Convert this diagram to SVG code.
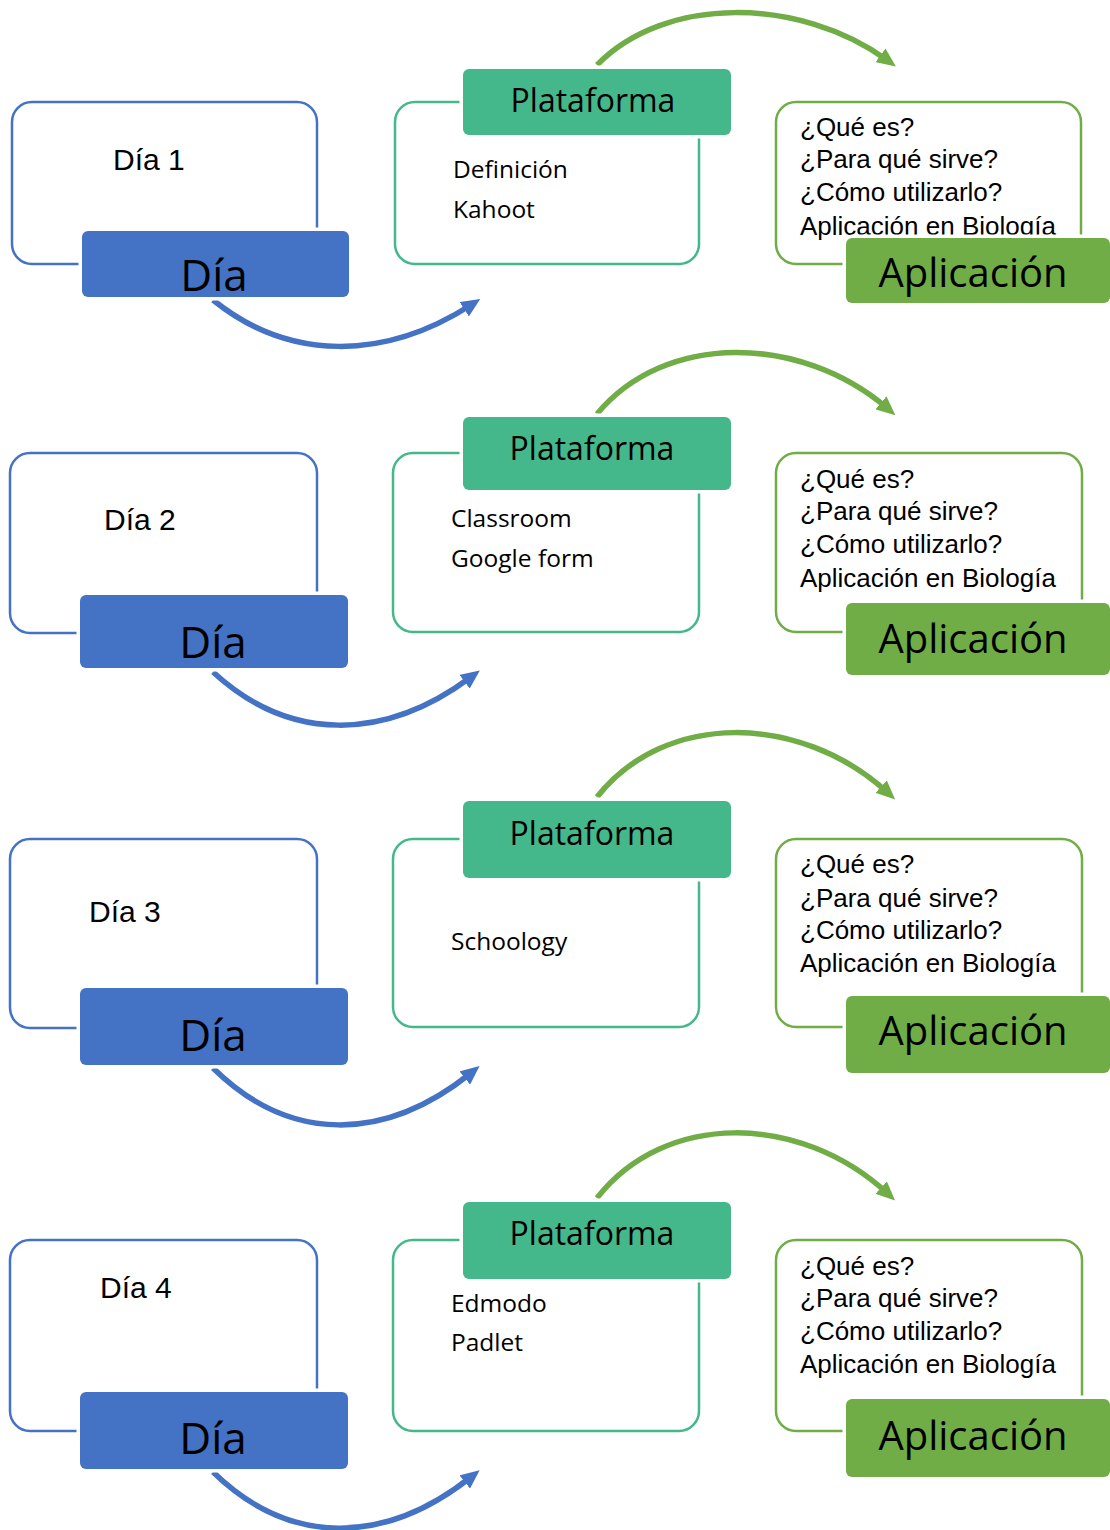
<svg xmlns="http://www.w3.org/2000/svg" width="1110" height="1530" viewBox="0 0 1110 1530">
<defs>
<style>
.ob{fill:#fff;stroke:#4472C4;stroke-width:2.5}
.ot{fill:#fff;stroke:#45B88B;stroke-width:2.5}
.og{fill:#fff;stroke:#70AD47;stroke-width:2.5}
.fb,.ft,.fg{stroke:#fff;stroke-width:7;paint-order:stroke}
.fb{fill:#4472C4}
.ft{fill:#45B88B}
.fg{fill:#70AD47}
.day{font-family:"Liberation Sans",Arial,sans-serif;font-size:30px;fill:#000}
.q{font-family:"Liberation Sans",Arial,sans-serif;font-size:26px;fill:#000}
.body{font-family:"Open Sans","Noto Sans",sans-serif;font-size:24.5px;fill:#000}
.tdia{font-family:"Open Sans","Noto Sans",sans-serif;font-size:44px;fill:#000;text-anchor:middle}
.tplat{font-family:"Open Sans","Noto Sans",sans-serif;font-size:32px;fill:#000;text-anchor:middle}
.tapl{font-family:"Open Sans","Noto Sans",sans-serif;font-size:40px;fill:#000;text-anchor:middle}
.ab{fill:none;stroke:#4472C4;stroke-width:5.5;marker-end:url(#mb)}
.ag{fill:none;stroke:#70AD47;stroke-width:5.5;marker-end:url(#mg)}
</style>
<marker id="mb" markerUnits="userSpaceOnUse" markerWidth="19" markerHeight="17" viewBox="0 0 19 17" refX="8" refY="8.5" orient="auto"><path d="M0,0 L19,8.5 L0,17 z" fill="#4472C4"/></marker>
<marker id="mg" markerUnits="userSpaceOnUse" markerWidth="19" markerHeight="17" viewBox="0 0 19 17" refX="8" refY="8.5" orient="auto"><path d="M0,0 L19,8.5 L0,17 z" fill="#70AD47"/></marker>
</defs>
<rect width="1110" height="1530" fill="#fff"/>

<g id="connectors">
<path class="ab" d="M213,300 C290,362 385,360 471,305"/>
<path class="ab" d="M213,672 C290,743 385,741 471,677"/>
<path class="ab" d="M213,1068 C290,1144 385,1142 471,1073"/>
<path class="ab" d="M213,1472 C290,1547 385,1545 471,1477"/>
<path class="ag" d="M597,65 C665,-5 800,-3 887,60"/>
<path class="ag" d="M597,414 C665,332 800,334 887,408"/>
<path class="ag" d="M597,797 C665,711 800,713 887,792"/>
<path class="ag" d="M597,1198 C665,1111 800,1113 887,1193"/>
</g>

<!-- Row 1 -->
<g id="dia1">
<rect class="ob" x="12" y="102" width="305" height="162" rx="20"/>
<text class="day" x="113" y="170">Día 1</text>
</g>
<g id="dia1-label">
<rect class="fb" x="82" y="231" width="267" height="66" rx="6"/>
<text class="tdia" x="214" y="291">Día</text>
</g>
<g id="plat1">
<rect class="ot" x="395" y="102" width="304" height="162" rx="20"/>
<text class="body" x="453" y="178">Definición</text>
<text class="body" x="453" y="218">Kahoot</text>
</g>
<g id="plat1-label">
<rect class="ft" x="463" y="69" width="268" height="66" rx="6"/>
<text class="tplat" x="593" y="112">Plataforma</text>
</g>
<g id="apl1">
<rect class="og" x="776" y="102" width="305" height="162" rx="20"/>
<text class="q" x="800" y="136">¿Qué es?</text>
<text class="q" x="800" y="168">¿Para qué sirve?</text>
<text class="q" x="800" y="201">¿Cómo utilizarlo?</text>
<text class="q" x="800" y="235">Aplicación en Biología</text>
</g>
<g id="apl1-label">
<rect class="fg" x="846" y="238" width="264" height="65" rx="6"/>
<text class="tapl" x="973" y="287">Aplicación</text>
</g>

<!-- Row 2 -->
<g id="dia2">
<rect class="ob" x="10" y="453" width="307" height="180" rx="20"/>
<text class="day" x="104" y="530">Día 2</text>
</g>
<g id="dia2-label">
<rect class="fb" x="80" y="595" width="268" height="73" rx="6"/>
<text class="tdia" x="213" y="658">Día</text>
</g>
<g id="plat2">
<rect class="ot" x="393" y="453" width="306" height="179" rx="20"/>
<text class="body" x="451" y="527">Classroom</text>
<text class="body" x="451" y="567">Google form</text>
</g>
<g id="plat2-label">
<rect class="ft" x="463" y="417" width="268" height="73" rx="6"/>
<text class="tplat" x="592" y="460">Plataforma</text>
</g>
<g id="apl2">
<rect class="og" x="776" y="453" width="306" height="179" rx="20"/>
<text class="q" x="800" y="488">¿Qué es?</text>
<text class="q" x="800" y="520">¿Para qué sirve?</text>
<text class="q" x="800" y="553">¿Cómo utilizarlo?</text>
<text class="q" x="800" y="587">Aplicación en Biología</text>
</g>
<g id="apl2-label">
<rect class="fg" x="846" y="603" width="264" height="72" rx="6"/>
<text class="tapl" x="973" y="653">Aplicación</text>
</g>

<!-- Row 3 -->
<g id="dia3">
<rect class="ob" x="10" y="839" width="307" height="189" rx="20"/>
<text class="day" x="89" y="922">Día 3</text>
</g>
<g id="dia3-label">
<rect class="fb" x="80" y="988" width="268" height="77" rx="6"/>
<text class="tdia" x="213" y="1051">Día</text>
</g>
<g id="plat3">
<rect class="ot" x="393" y="839" width="306" height="188" rx="20"/>
<text class="body" x="451" y="950">Schoology</text>
</g>
<g id="plat3-label">
<rect class="ft" x="463" y="801" width="268" height="77" rx="6"/>
<text class="tplat" x="592" y="845">Plataforma</text>
</g>
<g id="apl3">
<rect class="og" x="776" y="839" width="306" height="188" rx="20"/>
<text class="q" x="800" y="873">¿Qué es?</text>
<text class="q" x="800" y="907">¿Para qué sirve?</text>
<text class="q" x="800" y="939">¿Cómo utilizarlo?</text>
<text class="q" x="800" y="972">Aplicación en Biología</text>
</g>
<g id="apl3-label">
<rect class="fg" x="846" y="996" width="264" height="77" rx="6"/>
<text class="tapl" x="973" y="1045">Aplicación</text>
</g>

<!-- Row 4 -->
<g id="dia4">
<rect class="ob" x="10" y="1240" width="307" height="191" rx="20"/>
<text class="day" x="100" y="1298">Día 4</text>
</g>
<g id="dia4-label">
<rect class="fb" x="80" y="1392" width="268" height="77" rx="6"/>
<text class="tdia" x="213" y="1454">Día</text>
</g>
<g id="plat4">
<rect class="ot" x="393" y="1240" width="306" height="191" rx="20"/>
<text class="body" x="451" y="1312">Edmodo</text>
<text class="body" x="451" y="1351">Padlet</text>
</g>
<g id="plat4-label">
<rect class="ft" x="463" y="1202" width="268" height="77" rx="6"/>
<text class="tplat" x="592" y="1245">Plataforma</text>
</g>
<g id="apl4">
<rect class="og" x="776" y="1240" width="306" height="191" rx="20"/>
<text class="q" x="800" y="1275">¿Qué es?</text>
<text class="q" x="800" y="1307">¿Para qué sirve?</text>
<text class="q" x="800" y="1340">¿Cómo utilizarlo?</text>
<text class="q" x="800" y="1373">Aplicación en Biología</text>
</g>
<g id="apl4-label">
<rect class="fg" x="846" y="1399" width="264" height="78" rx="6"/>
<text class="tapl" x="973" y="1450">Aplicación</text>
</g>
</svg>
